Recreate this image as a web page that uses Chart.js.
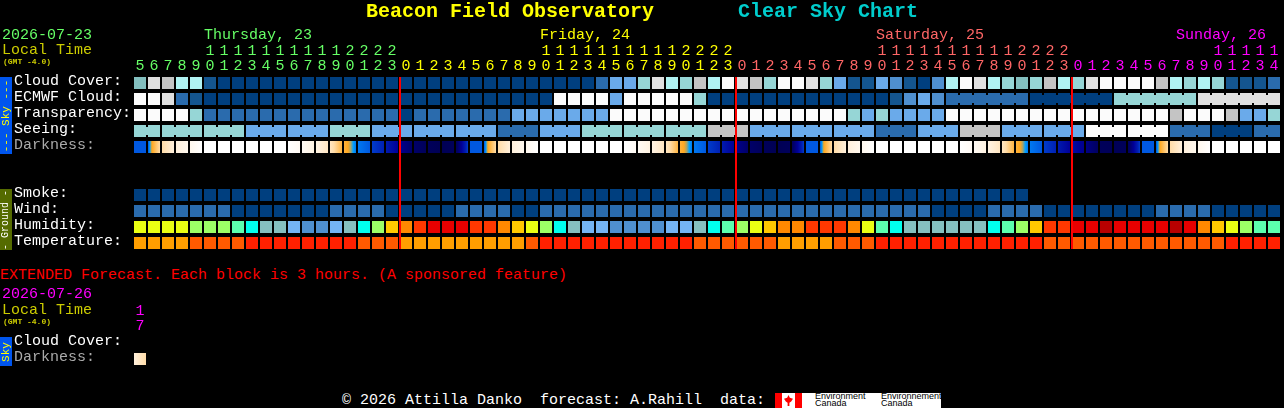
<!DOCTYPE html>
<html>
<head>
<meta charset="utf-8">
<title>Clear Sky Chart</title>
<script src="https://cdn.jsdelivr.net/npm/chart.js@4/dist/chart.umd.min.js"></script>
<style>
    html, body { margin: 0; background: #000; width: 1284px; height: 408px; overflow: hidden; }
    body { position: relative; font-family: "Liberation Mono", monospace; font-size: 15px; }
    canvas { position: absolute; left: 0; }
    .t { position: absolute; white-space: pre; line-height: 16px; }
    .band { position: absolute; left: 0; width: 12px; overflow: hidden; }
    .band span { position: absolute; left: 6px; top: 50%; transform: translate(-50%, -50%) rotate(-90deg); white-space: pre; line-height: 12px; }
</style>
</head>
<body>
<canvas id="mainChart" width="1284" height="251" style="top:0"></canvas>
<canvas id="extChart" width="200" height="71" style="top:296px"></canvas>

<div class="t" style="left:366px;top:1px;font-size:20px;line-height:22px;font-weight:bold;color:#ffff00">Beacon Field Observatory</div>
<div class="t" style="left:738px;top:1px;font-size:20px;line-height:22px;font-weight:bold;color:#00cccc">Clear Sky Chart</div>
<div class="t" style="left:2px;top:28px;color:#66ff66">2026-07-23</div>
<div class="t" style="left:2px;top:43px;color:#cccc00">Local Time</div>
<div class="t" style="left:3px;top:57px;font-size:8px;line-height:9px;font-weight:bold;color:#cccc00">(GMT -4.0)</div>
<div class="band" style="top:77px;height:77px;background:#0055ee;color:#ffff00;font-size:11px"><span>--- Sky ---</span></div>
<div class="band" style="top:189px;height:61px;background:#556b00;color:#ffffff;font-size:10px"><span>- Ground -</span></div>
<div class="t" style="left:0;top:268px;color:#ff0000">EXTENDED Forecast. Each block is 3 hours. (A sponsored feature)</div>
<div class="t" style="left:2px;top:287px;color:#ff00ff">2026-07-26</div>
<div class="t" style="left:2px;top:303px;color:#cccc00">Local Time</div>
<div class="t" style="left:3px;top:317px;font-size:8px;line-height:9px;font-weight:bold;color:#cccc00">(GMT -4.0)</div>
<div class="band" style="top:337px;height:29px;background:#0055ee;color:#ffff00;font-size:11px"><span>Sky</span></div>
<div class="t" style="left:342px;top:393px;color:#ffffff">© 2026 Attilla Danko  forecast: A.Rahill  data:</div>

<!-- data provider logo -->
<div style="position:absolute;left:775px;top:393px;width:166px;height:15px;background:#fff;overflow:hidden">
    <div style="position:absolute;left:0;top:0;width:7px;height:15px;background:#ff0000"></div>
    <div style="position:absolute;left:20px;top:0;width:7px;height:15px;background:#ff0000"></div>
    <div style="position:absolute;left:9px;top:2px;width:9px;height:11px;background:#ff0000;clip-path:polygon(50% 0,65% 25%,100% 35%,80% 60%,60% 70%,60% 100%,40% 100%,40% 70%,20% 60%,0 35%,35% 25%)"></div>
    <div class="t" style="left:40px;top:0;font-family:'Liberation Sans';font-size:9px;line-height:7px;color:#000">Environment
Canada</div>
    <div class="t" style="left:106px;top:0;font-family:'Liberation Sans';font-size:9px;line-height:7px;color:#000">Environnement
Canada</div>
</div>

<script>
// hour of each column, 5am Thursday to 2pm Sunday
const hours = [5,6,7,8,9,10,11,12,13,14,15,16,17,18,19,20,21,22,23,
    0,1,2,3,4,5,6,7,8,9,10,11,12,13,14,15,16,17,18,19,20,21,22,23,
    0,1,2,3,4,5,6,7,8,9,10,11,12,13,14,15,16,17,18,19,20,21,22,23,
    0,1,2,3,4,5,6,7,8,9,10,11,12,13,14];
const midnightCols = [19, 43, 67];
const dayNames = ['Thursday, 23', 'Friday, 24', 'Saturday, 25', 'Sunday, 26'];
const dayLabelCols = [4.57, 28.57, 52.57, 74];
const dayColors = ['#66ff66', '#ffff00', '#ff6666', '#ff00ff'];

const rowLabels = ['Cloud Cover:', 'ECMWF Cloud:', 'Transparency:', 'Seeing:', 'Darkness:', 'Smoke:', 'Wind:', 'Humidity:', 'Temperature:'];
const rowPositions = [0, 1, 2, 3, 4, 7, 8, 9, 10];

// sky levels, 0 = clear / best, 10 = overcast / worst
const cloudCover = [5,9,8,7,7,1,0,0,0,0,0,0,0,0,0,0,0,0,0,
    0,0,0,0,0,0,0,0,0,0,0,0,0,0,2,4,4,6,9,7,6,8,7,10,
    9,8,6,10,10,9,6,4,1,1,4,3,1,0,3,7,10,9,7,6,5,6,8,7,
    6,9,10,10,10,10,8,7,6,7,6,1,1,1,2];
const ecmwfCloud = [10,10,9,2,1,0,0,0,0,0,0,0,0,0,0,0,0,0,0,
    0,0,0,0,0,0,0,0,0,0,0,10,10,10,10,4,10,10,10,10,10,6,0,0,
    0,0,0,0,0,0,0,0,0,0,0,1,3,4,3,2,2,2,2,2,2,0,0,0,
    0,0,0,6,6,6,6,6,6,9,9,9,9,9,9];
const transparency = [10,10,10,10,6,2,2,2,2,2,2,2,2,2,2,2,2,2,2,
    0,2,2,2,2,2,2,2,4,4,4,4,4,4,4,10,10,10,10,10,10,10,10,10,
    10,10,10,10,10,10,10,10,6,4,6,4,4,4,4,10,10,10,10,10,10,10,10,10,
    10,10,10,10,10,10,10,8,10,10,10,8,4,4,6];
const seeing = [6,6,6,6,6,6,6,6,4,4,4,4,4,4,6,6,6,4,4,
    4,4,4,4,4,4,4,2,2,2,4,4,4,6,6,6,6,6,6,6,6,6,8,8,
    8,4,4,4,4,4,4,4,4,4,2,2,2,4,4,4,8,8,8,4,4,4,4,4,
    4,10,10,10,10,10,10,2,2,2,0,0,0,2,2];
const smoke = [0,0,0,0,0,0,0,0,0,0,0,0,0,0,0,0,0,0,0,
    0,0,0,0,0,0,0,0,0,0,0,0,0,0,0,0,0,0,0,0,0,0,0,0,
    0,0,0,0,0,0,0,0,0,0,0,0,0,0,0,0,0,0,0,0,0,null,null,null,
    null,null,null,null,null,null,null,null,null,null,null,null,null,null,null];
const wind = [2,2,2,2,2,2,2,0,0,0,0,0,0,0,2,2,2,2,0,
    0,0,0,0,2,2,2,2,0,0,2,2,2,2,2,2,2,2,2,2,2,2,2,2,
    2,2,2,2,2,2,2,2,2,2,2,2,2,2,0,0,0,0,2,2,2,2,0,0,
    0,0,0,0,0,0,2,2,2,2,0,0,0,0,0];
// humidity bands, driest first
const humidity = [6,6,6,6,5,5,5,4,3,2,2,1,0,0,1,2,3,5,7,
    8,9,10,10,10,9,9,8,7,6,5,3,2,1,1,0,0,0,0,1,1,2,3,4,
    5,6,7,8,8,9,9,9,8,6,4,3,2,2,2,2,2,2,3,4,5,7,9,9,
    10,10,11,10,10,10,10,11,10,8,7,6,5,4,4];
const temperature = [0,0,0,0,1,1,1,1,2,2,2,2,2,2,2,2,1,1,1,
    0,0,0,0,0,0,0,0,0,1,2,2,2,2,2,2,2,2,2,2,2,1,1,1,
    1,1,1,0,0,0,0,1,1,1,2,2,2,2,2,2,2,2,2,2,2,2,1,1,
    1,1,1,1,1,1,1,1,1,1,1,2,2,2,2];
// darkness at the left and right edge of each block, 0 = full night, 28 = full day
const darkLeft = [4,4,16,22,25,28,28,28,28,28,28,28,26,23,19,9.5,5,3.5,2.8,
    1.8,1,.5,.3,.6,4,4,16,22,25,28,28,28,28,28,28,28,26,23,19,9.5,5,3.5,2.8,
    1.8,1,.5,.3,.6,4,4,16,22,25,28,28,28,28,28,28,28,26,23,19,9.5,5,3.5,2.8,
    2.4,1.6,.5,.4,.6,4,4,16,22,25,28,28,28,28,28];
const darkRight = [4,16,22,25,28,28,28,28,28,28,28,26,23,19,10,5,4,3,2,
    1,.5,.3,.5,3.5,4,16,22,25,28,28,28,28,28,28,28,26,23,19,10,5,4,3,2,
    1,.5,.3,.5,3.5,4,16,22,25,28,28,28,28,28,28,28,26,23,19,10,5,4,3,2,
    1.8,.8,.4,.5,3.5,4,16,22,25,28,28,28,28,28,28];

// block of 3 hour (seeing) and 6 hour (ecmwf) forecasts, joined in the chart
const seeingBlockStarts = [0,2,5,8,11,14,17,20,23,26,29,32,35,38,41,44,47,50,53,56,59,62,65,68,71,74,77,80];
const ecmwfBlockStarts = [58,64,70,76];

// extended forecast
const extHours = [['1', '7']];
const extRowLabels = ['Cloud Cover:', 'Darkness:'];
const extCloud = [null];
const extDarkLeft = [22];
const extDarkRight = [16];

const skyColors = ['#003f7f','#14558f','#2a6bad','#4f8fcf','#6aaaea','#83bfbf','#96d6d6','#b0f3f3','#c4c4c4','#e0e0e0','#fbfbfb'];
const humidityColors = ['#4f8fcf','#74b4f4','#85bfbf','#00ffee','#5cffae','#9cff66','#eaff13','#ffc800','#ff8800','#ff3800','#e80000','#b80000'];
const tempColors = ['#ff9e00','#ff5a00','#ff2000'];
const darkStops = [[0,'#00004c'],[1,'#000068'],[2,'#000098'],[3,'#0020b4'],[4,'#0058e0'],[5,'#0078f0'],[6,'#00a0ff'],[7,'#a8a468'],[8,'#ffa820'],[16,'#ffdca8'],[22,'#fff0dc'],[25,'#fff8ee'],[28,'#ffffff']];

const FONT = '"Liberation Mono", monospace';
const CELL = 0.375; // half a block height, in rows
const LABEL_LIFT = 0.125; // row labels sit a little above the middle of their row

function hexToRgb(h) {
    return [1, 3, 5].map(i => parseInt(h.substr(i, 2), 16));
}

function darkColorAt(level) {
    for (let i = 0; i < darkStops.length - 1; i++) {
        const [a, ca] = darkStops[i];
        const [b, cb] = darkStops[i + 1];
        if (level <= b) {
            const t = Math.max(0, (level - a) / (b - a));
            const c1 = hexToRgb(ca), c2 = hexToRgb(cb);
            return `rgb(${c1.map((v, k) => Math.round(v + (c2[k] - v) * t)).join(',')})`;
        }
    }
    return darkStops[darkStops.length - 1][1];
}

// horizontal gradient for one darkness block
function darkFill(ctx, lefts, rights) {
    if (ctx.type !== 'data') return '#000';
    const i = ctx.dataIndex;
    const l = lefts[i], r = rights[i];
    if (l === r) return darkColorAt(l);
    const x = ctx.chart.scales.x.getPixelForValue(i);
    // scales have no size yet on the first pass
    if (!isFinite(x)) return '#000';
    const g = ctx.chart.ctx.createLinearGradient(x - 6, 0, x + 6, 0);
    g.addColorStop(0, darkColorAt(l));
    darkStops.forEach(([lev]) => {
        const p = (lev - l) / (r - l);
        if (p > 0 && p < 1) g.addColorStop(p, darkColorAt(lev));
    });
    g.addColorStop(1, darkColorAt(r));
    return g;
}

function cellRow(values, row, palette) {
    const data = [], colors = [];
    values.forEach((v, col) => {
        if (v === null) return;
        data.push({ x: col, y: [row - CELL, row + CELL] });
        colors.push(palette[v]);
    });
    return { data, backgroundColor: colors, barThickness: 12, stack: 'all', inflateAmount: 0 };
}

// narrow bars that join the blocks of one forecast period
function joinRow(values, row, palette, blockStarts) {
    const data = [], colors = [];
    const first = blockStarts[0];
    for (let col = first; col < values.length - 1; col++) {
        if (blockStarts.includes(col + 1)) continue;
        data.push({ x: col + 0.5, y: [row - 0.25, row + 0.25] });
        colors.push(palette[values[col]]);
    }
    return { data, backgroundColor: colors, barThickness: 2, stack: 'all', inflateAmount: 0 };
}

function darkRow(lefts, rights, row) {
    return {
        data: lefts.map((v, col) => ({ x: col, y: [row - CELL, row + CELL] })),
        backgroundColor: ctx => darkFill(ctx, lefts, rights),
        barThickness: 12, stack: 'all', inflateAmount: 0
    };
}

const dayLabelPlugin = {
    id: 'dayLabels',
    afterDraw(chart) {
        const c = chart.ctx;
        c.save();
        c.font = '15px ' + FONT;
        c.textBaseline = 'middle';
        dayNames.forEach((name, i) => {
            c.fillStyle = dayColors[i];
            c.fillText(name, chart.scales.x.getPixelForValue(dayLabelCols[i]), 35);
        });
        c.restore();
    }
};

// grid must sit on whole pixels, so no room is kept for overhanging labels
function noMargins(s) {
    s._margins = { left: 0, right: 0, top: 0, bottom: 0 };
    s.paddingLeft = s.paddingRight = s.paddingTop = s.paddingBottom = 0;
}

function axesOptions(xMin, xMax, xTicks, xLabel, xColor, yRows, yMax, yLabel, yColor, topHeight, rightPad) {
    return {
        responsive: false,
        animation: false,
        events: [],
        layout: { autoPadding: false, padding: { left: 14, right: rightPad, top: 0, bottom: 0 } },
        plugins: { legend: { display: false }, tooltip: { enabled: false }, title: { display: false } },
        scales: {
            x: {
                type: 'linear', position: 'top', min: xMin, max: xMax, offset: false,
                grid: { display: false, drawTicks: false }, border: { display: false },
                afterBuildTicks: s => { s.ticks = xTicks.map(value => ({ value })); },
                afterFit: s => { s.height = topHeight; noMargins(s); },
                ticks: {
                    autoSkip: false, maxRotation: 0, padding: 1,
                    font: { family: FONT, size: 15, lineHeight: '15px' },
                    color: ctx => xColor(ctx.tick.value),
                    callback: xLabel
                }
            },
            y: {
                type: 'linear', reverse: true, min: -0.5, max: yMax, stacked: false,
                grid: { display: false, drawTicks: false }, border: { display: false },
                afterBuildTicks: s => { s.ticks = yRows.map(value => ({ value: value - LABEL_LIFT })); },
                afterFit: s => { s.width = 119; noMargins(s); },
                ticks: {
                    autoSkip: false, crossAlign: 'far', padding: 0,
                    font: { family: FONT, size: 15 },
                    color: ctx => yColor(Math.round(ctx.tick.value + LABEL_LIFT)),
                    callback: v => yLabel(Math.round(v + LABEL_LIFT))
                }
            }
        }
    };
}

function dayOfCol(col) {
    return midnightCols.filter(m => col >= m).length;
}

function hourLabel(col) {
    const h = hours[col];
    return h >= 10 ? [String(Math.floor(h / 10)), String(h % 10)] : String(h);
}

document.addEventListener('DOMContentLoaded', () => {
    const hourTicks = hours.map((h, i) => i);

    new Chart(document.getElementById('mainChart'), {
        type: 'bar',
        plugins: [dayLabelPlugin],
        data: {
            datasets: [
                // drawn last, so the midnight lines stay on top
                {
                    data: midnightCols.map(m => ({ x: m - 0.4286, y: [-CELL, 10 + CELL] })),
                    backgroundColor: '#ff0000', barThickness: 2, stack: 'all', inflateAmount: 0
                },
                cellRow(cloudCover, 0, skyColors),
                cellRow(ecmwfCloud, 1, skyColors),
                joinRow(ecmwfCloud, 1, skyColors, ecmwfBlockStarts),
                cellRow(transparency, 2, skyColors),
                cellRow(seeing, 3, skyColors),
                joinRow(seeing, 3, skyColors, seeingBlockStarts),
                darkRow(darkLeft, darkRight, 4),
                cellRow(smoke, 7, skyColors),
                cellRow(wind, 8, skyColors),
                cellRow(humidity, 9, humidityColors),
                cellRow(temperature, 10, tempColors)
            ]
        },
        options: axesOptions(-0.5, 81.5, hourTicks, v => hourLabel(v), v => dayColors[dayOfCol(v)],
            rowPositions, 10.5, v => rowLabels[rowPositions.indexOf(v)],
            v => v === 4 ? '#aaaaaa' : '#ffffff', 75, 3)
    });

    new Chart(document.getElementById('extChart'), {
        type: 'bar',
        data: {
            datasets: [
                cellRow(extCloud, 0, skyColors),
                darkRow(extDarkLeft, extDarkRight, 1)
            ]
        },
        options: axesOptions(-0.5, 0.5, [0], v => extHours[v], () => '#ff00ff',
            [0, 1], 1.5, v => extRowLabels[v],
            v => v === 1 ? '#aaaaaa' : '#ffffff', 39, 53)
    });
});
</script>
</body>
</html>
